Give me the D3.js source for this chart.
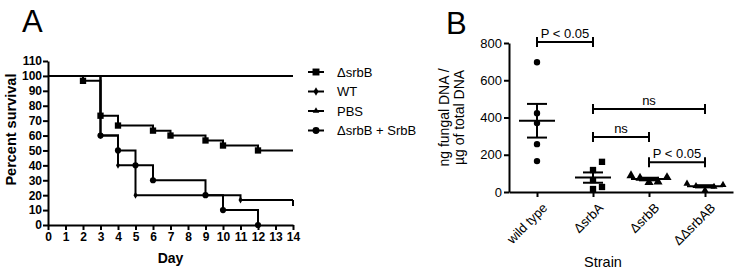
<!DOCTYPE html>
<meta charset="utf-8">
<style>
body { margin: 0; background: #fff; }
svg { font-family: "Liberation Sans", Arial, sans-serif; }
.axis path, .axis line { stroke: #000; stroke-width: 2; }
.axis text { fill: #000; }
.axA text { font-weight: bold; font-size: 12px; }
.axB text { font-size: 13px; }
</style>
<svg width="739" height="272"></svg>
<script src="https://d3js.org/d3.v7.min.js"></script>
<script>
// panel A: survival steps (day, percent)
var srbBDays = [0, 2, 3, 4, 6, 7, 9, 10, 12, 14],
    srbBSurv = [100, 96.7, 73.3, 66.7, 63.3, 60, 56.7, 53.3, 50, 50];
var wtDays = [0, 3, 4, 5, 11, 14],
    wtSurv = [100, 60, 40, 20, 16.7, 16.7];
var pbsDays = [0, 14],
    pbsSurv = [100, 100];
var compDays = [0, 3, 4, 5, 6, 9, 10, 12],
    compSurv = [100, 60, 50, 40, 30, 20, 10, 0];
var legendLabels = ["\u0394srbB", "WT", "PBS", "\u0394srbB + SrbB"];
var dayTicks = d3.range(0, 15);
var survTicks = d3.range(0, 111, 10);

// panel B: fungal DNA per strain
var strains = ["wild type", "\u0394srbA", "\u0394srbB", "\u0394\u0394srbAB"];
var wtDNA = [697, 423, 370, 257, 166];
var srbADNA = [162, 118, 64, 16, 27];
var srbBDNA = [88, 78, 75, 52, 55];
var srbABDNA = [45, 38, 28, 32, 10];
var dnaTicks = [0, 200, 400, 600, 800];
// comparisons: [from, to, y, label]
var compFrom = [0, 1, 1, 2],
    compTo = [1, 3, 2, 3],
    compY = [805, 445, 295, 160],
    compLabel = ["P < 0.05", "ns", "ns", "P < 0.05"];

var svg = d3.select("svg");

// ---------- A ----------
var x = d3.scaleLinear().domain([0, 14]).range([48, 293]);
var y = d3.scaleLinear().domain([0, 110]).range([225, 61]);

svg.append("text").attr("x", 22).attr("y", 32).style("font-size", "31px").text("A");

svg.append("g").attr("class", "axis axA")
  .attr("transform", "translate(0," + y(0) + ")")
  .call(d3.axisBottom(x).tickValues(dayTicks).tickSize(5).tickSizeOuter(0).tickPadding(2));
svg.append("g").attr("class", "axis axA")
  .attr("transform", "translate(" + x(0) + ",0)")
  .call(d3.axisLeft(y).tickValues(survTicks).tickSize(5).tickSizeOuter(0).tickPadding(1));

svg.append("text").attr("x", x(7)).attr("y", 263).attr("text-anchor", "middle")
  .style("font-weight", "bold").style("font-size", "14px").text("Day");
svg.append("text").attr("transform", "translate(16," + y(64) + ") rotate(-90)")
  .attr("text-anchor", "middle").style("font-weight", "bold").style("font-size", "14.5px")
  .text("Percent survival");

var groups = [
  {days: srbBDays, surv: srbBSurv, sym: d3.symbolSquare, size: 40},
  {days: wtDays, surv: wtSurv, sym: d3.symbolDiamond, size: 14},
  {days: pbsDays, surv: pbsSurv, sym: d3.symbolTriangle2, size: 22},
  {days: compDays, surv: compSurv, sym: d3.symbolCircle, size: 30}
];

var line = d3.line().curve(d3.curveStepAfter).x(function(d) { return x(d[0]); }).y(function(d) { return y(d[1]); });

// draw PBS first so others sit on top
[2, 0, 1, 3].forEach(function(gi) {
  var g = groups[gi];
  var pts = g.days.map(function(d, i) { return [d, g.surv[i]]; });
  svg.append("path").attr("d", line(pts)).attr("fill", "none")
    .attr("stroke", "#000").attr("stroke-width", 2);
  var marks = pts.filter(function(p, i) { return i > 0 && !(p[0] == 14); });
  svg.selectAll(null).data(marks).enter().append("path")
    .attr("d", d3.symbol().type(g.sym).size(g.size))
    .attr("transform", function(p) { return "translate(" + x(p[0]) + "," + y(p[1]) + ")"; });
});
// censor tick at end of WT
svg.append("line").attr("x1", x(14)).attr("x2", x(14))
  .attr("y1", y(wtSurv[wtSurv.length - 1])).attr("y2", y(wtSurv[wtSurv.length - 1]) + 6)
  .attr("stroke", "#000").attr("stroke-width", 2);

// legend
var leg = svg.append("g");
legendLabels.forEach(function(t, i) {
  var ly = 72 + i * 19.5;
  leg.append("line").attr("x1", 308).attr("x2", 324).attr("y1", ly).attr("y2", ly)
    .attr("stroke", "#000").attr("stroke-width", 2);
  leg.append("path").attr("d", d3.symbol().type(groups[i].sym).size(groups[i].size + 8))
    .attr("transform", "translate(316," + ly + ")");
  leg.append("text").attr("x", 337).attr("y", ly + 4.5).style("font-size", "13px").text(t);
});

// ---------- B ----------
var xb = d3.scalePoint().domain(strains).range([509, 733]).padding(0.5);
var yb = d3.scaleLinear().domain([0, 800]).range([192, 43]);

svg.append("text").attr("x", 446).attr("y", 34).style("font-size", "31px").text("B");

svg.append("g").attr("class", "axis axB")
  .attr("transform", "translate(509,0)")
  .call(d3.axisLeft(yb).tickValues(dnaTicks).tickSize(5).tickSizeOuter(0).tickPadding(2));
var gx = svg.append("g").attr("class", "axis axB")
  .attr("transform", "translate(0," + yb(0) + ")")
  .call(d3.axisBottom(xb).tickSize(5).tickSizeOuter(0));
gx.selectAll("text").attr("text-anchor", "end").attr("dy", null)
  .attr("transform", "translate(5,11) rotate(-45)");

svg.append("text").attr("x", 603).attr("y", 267).attr("text-anchor", "middle")
  .style("font-size", "14.5px").text("Strain");
var ylab = svg.append("text").attr("transform", "translate(449," + yb(400) + ") rotate(-90)")
  .attr("text-anchor", "middle").style("font-size", "14px");
ylab.append("tspan").attr("x", 0).attr("dy", 0).text("ng fungal DNA /");
ylab.append("tspan").attr("x", 0).attr("dy", 15).text("\u00b5g of total DNA");

var sets = [wtDNA, srbADNA, srbBDNA, srbABDNA];
var syms = [d3.symbolCircle, d3.symbolSquare, d3.symbolTriangle, d3.symbolTriangle2];
var symSize = [32, 40, 36, 36];

sets.forEach(function(vals, si) {
  var cx = xb(strains[si]);
  // simple side-by-side placement for overlapping points
  var sorted = vals.slice().sort(d3.ascending);
  var placed = [];
  sorted.forEach(function(v) {
    var py = yb(v), k = 0, offs = [0, 9, -9, 18, -18], px;
    do {
      px = cx + offs[k++];
    } while (k < offs.length && placed.some(function(p) { return Math.abs(p[0] - px) < 7 && Math.abs(p[1] - py) < 8.5; }));
    placed.push([px, py]);
  });
  svg.selectAll(null).data(placed).enter().append("path")
    .attr("d", d3.symbol().type(syms[si]).size(symSize[si]))
    .attr("transform", function(p) { return "translate(" + p[0] + "," + p[1] + ")"; });

  var m = d3.mean(vals), se = d3.deviation(vals) / Math.sqrt(vals.length);
  var g = svg.append("g").attr("stroke", "#000").attr("stroke-width", 2);
  g.append("line").attr("x1", cx - 18).attr("x2", cx + 18).attr("y1", yb(m)).attr("y2", yb(m));
  g.append("line").attr("x1", cx).attr("x2", cx).attr("y1", yb(m - se)).attr("y2", yb(m + se));
  [m - se, m + se].forEach(function(v) {
    g.append("line").attr("x1", cx - 10).attr("x2", cx + 10).attr("y1", yb(v)).attr("y2", yb(v));
  });
});

compFrom.forEach(function(f, i) {
  var x1 = xb(strains[f]), x2 = xb(strains[compTo[i]]), by = yb(compY[i]);
  var g = svg.append("g").attr("stroke", "#000").attr("stroke-width", 2);
  g.append("line").attr("x1", x1).attr("x2", x2).attr("y1", by).attr("y2", by);
  [x1, x2].forEach(function(xx) {
    g.append("line").attr("x1", xx).attr("x2", xx).attr("y1", by - 5).attr("y2", by + 5);
  });
  svg.append("text").attr("x", (x1 + x2) / 2).attr("y", by - 4).attr("text-anchor", "middle")
    .style("font-size", "13px").text(compLabel[i]);
});
</script>
